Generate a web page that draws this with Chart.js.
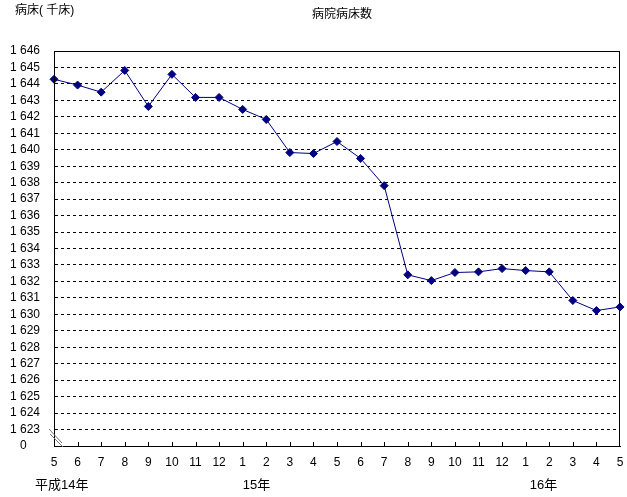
<!DOCTYPE html>
<html>
<head>
<meta charset="utf-8">
<script src="https://cdn.jsdelivr.net/npm/chart.js@4/dist/chart.umd.min.js"></script>
<style>
  html, body { margin: 0; padding: 0; background: #fff; }
  #wrap { width: 627px; height: 497px; position: relative; }
</style>
</head>
<body>
<div id="wrap"><canvas id="c"></canvas></div>
<script>
// ---- Data ----------------------------------------------------------------
const months = ["5","6","7","8","9","10","11","12","1","2","3","4",
                "5","6","7","8","9","10","11","12","1","2","3","4","5"];
const beds = [1644.28, 1643.93, 1643.5, 1644.82, 1642.63, 1644.58, 1643.18, 1643.18,
              1642.45, 1641.84, 1639.83, 1639.77, 1640.5, 1639.47, 1637.82, 1632.4,
              1632.05, 1632.54, 1632.58, 1632.78, 1632.66, 1632.58, 1630.84, 1630.23, 1630.45];
// year captions: [text, category index where it sits, x offset]
const yearLabels = [["平成14年", 0, -19], ["15年", 8, 0], ["16年", 20, 4]];
const yMin = 1622, yMax = 1646;   // 1622 is shown as the broken "0"

const FONT = "'Liberation Sans', 'Noto Sans CJK JP', sans-serif";

// ---- Extras: frame, inner ticks, axis break, captions ---------------------
const extras = {
  id: "extras",
  afterDraw(chart) {
    const { ctx, chartArea: a, scales } = chart;
    const xs = scales.x;
    ctx.save();
    // frame
    ctx.strokeStyle = "#000";
    ctx.lineWidth = 1;
    ctx.strokeRect(Math.round(a.left) + 0.5, Math.round(a.top) + 0.5,
                   Math.round(a.right - a.left) - 1, Math.round(a.bottom - a.top));
    // inner x ticks
    ctx.beginPath();
    for (let i = 1; i < months.length - 1; i++) {
      const x = Math.round(xs.getPixelForValue(i)) + 0.5;
      ctx.moveTo(x, a.bottom);
      ctx.lineTo(x, a.bottom - 4);
    }
    ctx.stroke();
    // axis break marks
    ctx.strokeStyle = "#777";
    ctx.beginPath();
    ctx.moveTo(a.left - 5, a.bottom - 17);
    ctx.lineTo(a.left + 8, a.bottom - 3);
    ctx.moveTo(a.left - 4, a.bottom - 12);
    ctx.lineTo(a.left + 9, a.bottom + 1);
    ctx.stroke();
    // texts
    ctx.fillStyle = "#000";
    ctx.textBaseline = "middle";
    ctx.font = "12px " + FONT;
    ctx.textAlign = "left";
    ctx.fillText("病床( 千床)", 15, 11);
    ctx.textAlign = "center";
    ctx.fillText("病院病床数", 342, 15);
    ctx.font = "13px " + FONT;
    ctx.textAlign = "left";
    yearLabels.forEach(([t, i, dx]) => {
      ctx.fillText(t, xs.getPixelForValue(i) + dx, 485);
    });
    ctx.restore();
  }
};

new Chart(document.getElementById("c"), {
  type: "line",
  data: {
    labels: months,
    datasets: [{
      data: beds,
      borderColor: "#000080",
      backgroundColor: "#000080",
      borderWidth: 1,
      pointStyle: "rectRot",
      pointRadius: 4,
      pointHoverRadius: 4,
      tension: 0
    }]
  },
  options: {
    responsive: true,
    maintainAspectRatio: false,
    animation: false,
    layout: { padding: { left: 0, right: 7, top: 51, bottom: 0 } },
    plugins: { legend: { display: false }, tooltip: { enabled: false }, title: { display: false } },
    scales: {
      x: {
        offset: false,
        grid: { display: false, drawTicks: false },
        border: { display: true, color: "#000" },
        ticks: { color: "#000", font: { family: FONT, size: 12 }, padding: 9,
                 maxRotation: 0, autoSkip: false },
        afterFit: (s) => { s.height = 51; s.paddingLeft = 0; s.paddingRight = 0; }
      },
      y: {
        min: yMin,
        max: yMax,
        grid: {
          drawTicks: false,
          color: (c) => (c.tick && (c.tick.value === yMax || c.tick.value === yMin)) ? "rgba(0,0,0,0)" : "#000",
          lineWidth: 1
        },
        border: { display: true, color: "#000", dash: [3, 3] },
        ticks: {
          stepSize: 1,
          autoSkip: false,
          color: "#000",
          padding: 14,
          font: { family: FONT, size: 12 },
          callback: (v) => v === yMin ? "0    " : "1 " + String(v).slice(1)
        },
        afterFit: (s) => { s.width = 54; s.paddingTop = 0; s.paddingBottom = 0; }
      }
    }
  },
  plugins: [extras]
});
</script>
</body>
</html>
